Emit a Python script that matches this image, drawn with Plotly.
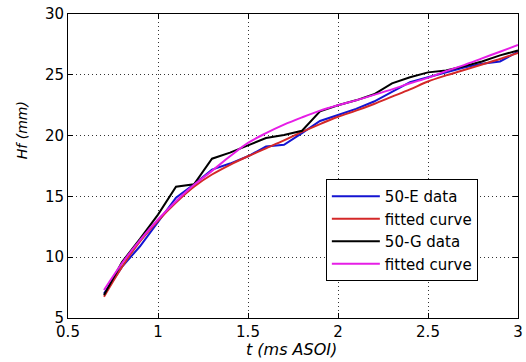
import plotly.graph_objects as go

t = [0.7, 0.8, 0.9, 1.0, 1.1, 1.2, 1.3, 1.4, 1.5, 1.6, 1.7, 1.8,
     1.9, 2.0, 2.1, 2.2, 2.3, 2.4, 2.5, 2.6, 2.7, 2.8, 2.9, 3.0]

e_data = [7.0, 9.2, 10.9, 12.9, 14.9, 16.0, 17.2, 17.7, 18.3, 19.1, 19.25, 20.2,
          21.2, 21.7, 22.2, 22.8, 23.6, 24.4, 24.8, 25.2, 25.6, 25.9, 26.1, 26.9]
e_fit = [6.75, 9.2, 11.3, 13.0, 14.5, 15.8, 16.8, 17.6, 18.3, 18.95, 19.6, 20.3,
         20.95, 21.55, 22.05, 22.6, 23.2, 23.8, 24.45, 24.95, 25.4, 25.85, 26.3, 26.8]
g_data = [6.9, 9.6, 11.5, 13.5, 15.8, 16.0, 18.1, 18.6, 19.2, 19.8, 20.05, 20.4,
          22.0, 22.5, 22.9, 23.4, 24.3, 24.8, 25.2, 25.35, 25.7, 26.1, 26.6, 27.0]
g_fit = [7.3, 9.5, 11.4, 13.1, 14.6, 15.95, 17.1, 18.3, 19.4, 20.2, 20.9, 21.5,
         22.05, 22.5, 22.9, 23.35, 23.8, 24.3, 24.75, 25.3, 25.8, 26.35, 26.9, 27.45]

names = ["50-E data", "fitted curve", "50-G data", "fitted curve"]
series = [e_data, e_fit, g_data, g_fit]
colors = ["#1414d2", "#d42828", "#000000", "#e61ee6"]
shapes = ["linear", "spline", "linear", "spline"]

x_ticks = [0.5, 1, 1.5, 2, 2.5, 3]
y_ticks = [5, 10, 15, 20, 25, 30]

fig = go.Figure()
for nm, ys, c, sh in zip(names, series, colors, shapes):
    fig.add_trace(go.Scatter(x=t, y=ys, mode="lines", name=nm,
                             line=dict(color=c, width=2, shape=sh)))

axis_common = dict(showline=True, linecolor="black", linewidth=1, mirror="ticks",
                   ticks="inside", ticklen=5, tickcolor="black", automargin=False,
                   showgrid=True, gridcolor="#333333", griddash="1px,3px", gridwidth=1,
                   zeroline=False, tickfont=dict(family="DejaVu Sans", size=15, color="black"))

fig.update_xaxes(range=[0.5, 3], tickvals=x_ticks, ticktext=[str(v) for v in x_ticks],
                 ticklabelstandoff=0, **axis_common)
fig.update_yaxes(range=[5, 30], tickvals=y_ticks, ticktext=[str(v) for v in y_ticks], **axis_common)

fig.update_layout(
    width=526, height=362,
    margin=dict(l=68, r=8, t=14, b=44),
    paper_bgcolor="white", plot_bgcolor="white",
    font=dict(family="DejaVu Sans", size=15, color="black"),
    showlegend=True,
    legend=dict(x=0.573, y=0.457, xanchor="left", yanchor="top",
                bgcolor="white", bordercolor="black", borderwidth=1,
                font=dict(family="DejaVu Sans", size=15, color="black"),
                tracegroupgap=0, itemwidth=48),
    annotations=[
        dict(text="<i>t (ms ASOI)</i>", xref="paper", yref="paper", x=0.496, y=-0.102,
             xanchor="center", yanchor="middle", showarrow=False,
             font=dict(family="DejaVu Sans", size=16, color="black")),
        dict(text="<i>Hf (mm)</i>", xref="paper", yref="paper", x=-0.102, y=0.618,
             xanchor="center", yanchor="middle", showarrow=False, textangle=-90,
             font=dict(family="DejaVu Sans", size=14, color="black")),
    ],
)

fig.write_html("out.html", config={"displayModeBar": False},
               post_script="document.body.style.margin='0';document.body.style.overflow='hidden';")
